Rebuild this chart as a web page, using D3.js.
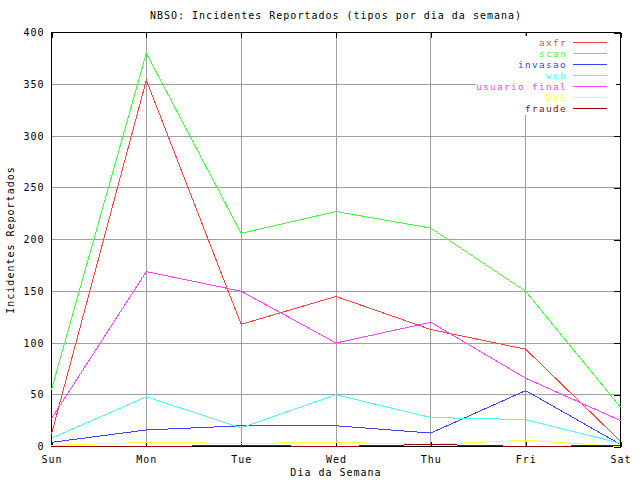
<!DOCTYPE html>
<html>
<head>
<meta charset="utf-8">
<script src="https://cdn.jsdelivr.net/npm/d3@7"></script>
<style>
  html, body { margin: 0; padding: 0; background: #fff; }
  svg { display: block; }
  text { font-family: "DejaVu Sans Mono", "Liberation Mono", monospace; font-size: 10px; letter-spacing: 1px; }
</style>
</head>
<body>
<svg id="chart" width="640" height="480"></svg>
<script>
const days = ["Sun", "Mon", "Tue", "Wed", "Thu", "Fri", "Sat"];
const axfr = [12, 354, 118, 145, 113, 94, 5];
const scan = [55, 380, 206, 227, 211, 150, 38];
const invasao = [4, 16, 20, 20, 13, 54, 2];
const web = [8, 48, 18, 50, 28, 26, 3];
const usuarioFinal = [27, 169, 150, 100, 120, 66, 25];
const dos = [1, 4, 3, 4, 2, 6, 0];
const fraude = [0, 0, 1, 0, 2, 0, 1];
const seriesNames = ["axfr", "scan", "invasao", "web", "usuario final", "DoS", "fraude"];
const seriesColors = ["#ff4040", "#40ff40", "#4040ff", "#40ffff", "#ff40ff", "#ffff40", "#a00000"];
const yTicks = [0, 50, 100, 150, 200, 250, 300, 350, 400];

const seriesValues = [axfr, scan, invasao, web, usuarioFinal, dos, fraude];
const series = seriesNames.map((n, i) => ({ name: n, color: seriesColors[i], values: seriesValues[i] }));

const svg = d3.select("#chart");
const pLeft = 51.5, pRight = 620.5, pTop = 32.5, pBottom = 446.5;
const FONT = "'DejaVu Sans Mono', 'Liberation Mono', monospace";

const x = d3.scalePoint().domain(days).range([pLeft, pRight]);
const y = d3.scaleLinear().domain([0, 400]).range([pBottom, pTop]);

svg.append("rect").attr("width", 640).attr("height", 480).attr("fill", "#fff");

// grid
const grid = svg.append("g").attr("shape-rendering", "crispEdges").attr("stroke", "#a0a0a0").attr("stroke-width", 1);
grid.selectAll("line.v").data(days.slice(1, -1)).join("line")
  .attr("x1", d => Math.round(x(d) - 0.5) + 0.5).attr("x2", d => Math.round(x(d) - 0.5) + 0.5)
  .attr("y1", pTop).attr("y2", pBottom);
grid.selectAll("line.h").data(yTicks.slice(1, -1)).join("line")
  .attr("x1", pLeft).attr("x2", pRight)
  .attr("y1", d => Math.round(y(d) - 0.5) + 0.5).attr("y2", d => Math.round(y(d) - 0.5) + 0.5);

// axes (ticks)
const xAxisB = d3.axisBottom(x).tickSize(-5).tickPadding(9);
const gxb = svg.append("g").attr("transform", `translate(0,${pBottom})`).call(xAxisB);
const xAxisT = d3.axisTop(x).tickSize(-5).tickFormat("");
const gxt = svg.append("g").attr("transform", `translate(0,${pTop})`).call(xAxisT);
const yAxisL = d3.axisLeft(y).tickValues(yTicks).tickSize(0).tickPadding(8);
const gyl = svg.append("g").attr("transform", `translate(${pLeft},0)`).call(yAxisL);
const yAxisR = d3.axisRight(y).tickValues(yTicks).tickSize(-7).tickFormat("");
const gyr = svg.append("g").attr("transform", `translate(${pRight},0)`).call(yAxisR);
[gxb, gxt, gyl, gyr].forEach(g => {
  g.attr("shape-rendering", "crispEdges");
  g.select(".domain").remove();
  g.selectAll("line").attr("stroke", "#000");
  g.selectAll("text").attr("fill", "#000")
    .style("font-family", FONT).style("font-size", "10px").style("letter-spacing", "1px");
});
gyl.selectAll("text").attr("dx", "1px");

// border
svg.append("rect").attr("x", pLeft).attr("y", pTop).attr("width", pRight - pLeft).attr("height", pBottom - pTop)
  .attr("fill", "none").attr("stroke", "#000").attr("shape-rendering", "crispEdges");

// legend background
const legendX = 567, legendY0 = 42, legendDy = 11;
svg.append("rect").attr("x", 476).attr("y", 36).attr("width", 140).attr("height", 79).attr("fill", "#fff");

// lines
const line = d3.line().x((d, i) => x(days[i])).y(d => y(d));
svg.append("g").selectAll("path").data(series).join("path")
  .attr("d", d => line(d.values))
  .attr("fill", "none").attr("stroke", d => d.color).attr("stroke-width", 1)
  .attr("shape-rendering", "crispEdges");

// legend
const lg = svg.append("g");
series.forEach((s, i) => {
  const yy = legendY0 + i * legendDy;
  lg.append("text").attr("x", legendX).attr("y", yy + 3.5).attr("text-anchor", "end")
    .style("font-size", "9.4px").style("letter-spacing", "1.35px")
    .attr("fill", s.color).text(s.name);
  lg.append("line").attr("x1", 573).attr("x2", 607).attr("y1", yy + 0.5).attr("y2", yy + 0.5)
    .attr("stroke", s.color).attr("shape-rendering", "crispEdges");
});

// titles
svg.append("text").attr("x", 336).attr("y", 19).attr("text-anchor", "middle").attr("fill", "#000")
  .text("NBSO: Incidentes Reportados (tipos por dia da semana)");
svg.append("text").attr("x", 336).attr("y", 476).attr("text-anchor", "middle").attr("fill", "#000")
  .text("Dia da Semana");
svg.append("text").attr("transform", "translate(14,240) rotate(-90)").attr("text-anchor", "middle").attr("fill", "#000")
  .text("Incidentes Reportados");
</script>
</body>
</html>
